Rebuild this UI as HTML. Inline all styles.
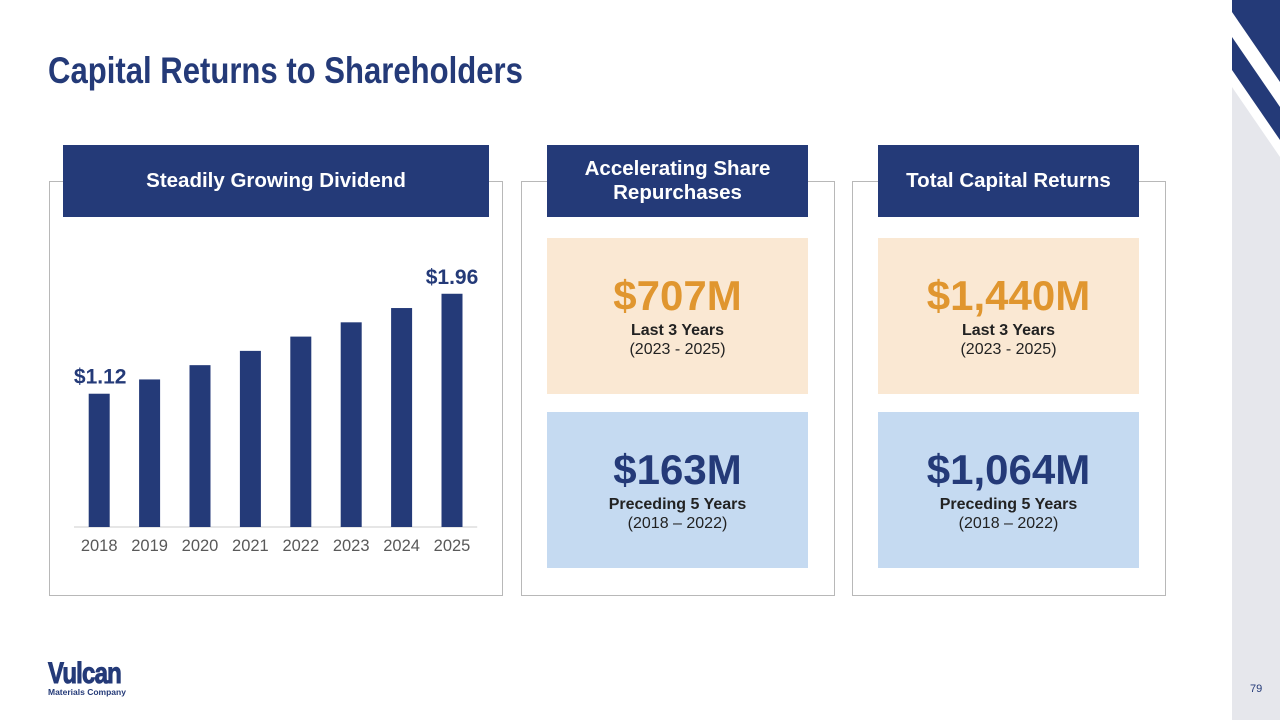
<!DOCTYPE html>
<html><head><meta charset="utf-8"><style>
body{margin:0;width:1280px;height:720px;background:#fff;font-family:"Liberation Sans",sans-serif;position:relative;overflow:hidden}
.abs{position:absolute}
.title{left:48px;top:50px;font-size:37px;font-weight:bold;color:#243a78;font-family:"Liberation Sans Narrow","Liberation Sans",sans-serif;transform:scaleX(0.84);transform-origin:left top;white-space:nowrap}
.panel{border:1px solid #b8b8b8;box-sizing:border-box}
.hdr{background:#243a78;color:#fff;font-weight:bold;font-size:20.5px;display:flex;align-items:center;justify-content:center;text-align:center;line-height:24px}
.box{display:flex;flex-direction:column;align-items:center;justify-content:center;text-align:center}
.big{font-size:42px;font-weight:bold;line-height:46px}
.sub{font-size:16px;font-weight:bold;color:#222;margin-top:2px;line-height:19px}
.sub2{font-size:16px;color:#222;line-height:19px}
</style></head><body>
<svg class="abs" style="left:1232px;top:0" width="48" height="720">
<rect x="0" y="0" width="48" height="720" fill="#e6e7ec"/>
<polygon points="0,0 48,0 48,157 0,87" fill="#fff"/>
<polygon points="0,0 48,0 48,82 0,12" fill="#243a78"/>
<polygon points="0,37 48,107 48,140 0,70" fill="#243a78"/>
</svg>
<div class="abs title">Capital Returns to Shareholders</div>

<div class="abs panel" style="left:49px;top:181px;width:454px;height:415px"></div>
<div class="abs hdr" style="left:63px;top:145px;width:426px;height:72px">Steadily Growing Dividend</div>
<svg class="abs" style="left:49px;top:217px" width="454" height="370" id="chart"></svg>

<div class="abs panel" style="left:521px;top:181px;width:314px;height:415px"></div>
<div class="abs hdr" style="left:547px;top:145px;width:261px;height:72px">Accelerating Share<br>Repurchases</div>
<div class="abs box" style="left:547px;top:238px;width:261px;height:156px;background:#fae8d3"><div class="big" style="color:#e0962f">$707M</div><div class="sub">Last 3 Years</div><div class="sub2">(2023 - 2025)</div></div>
<div class="abs box" style="left:547px;top:412px;width:261px;height:156px;background:#c5daf1"><div class="big" style="color:#243a78">$163M</div><div class="sub">Preceding 5 Years</div><div class="sub2">(2018 – 2022)</div></div>

<div class="abs panel" style="left:852px;top:181px;width:314px;height:415px"></div>
<div class="abs hdr" style="left:878px;top:145px;width:261px;height:72px">Total Capital Returns</div>
<div class="abs box" style="left:878px;top:238px;width:261px;height:156px;background:#fae8d3"><div class="big" style="color:#e0962f">$1,440M</div><div class="sub">Last 3 Years</div><div class="sub2">(2023 - 2025)</div></div>
<div class="abs box" style="left:878px;top:412px;width:261px;height:156px;background:#c5daf1"><div class="big" style="color:#243a78">$1,064M</div><div class="sub">Preceding 5 Years</div><div class="sub2">(2018 – 2022)</div></div>

<div class="abs" style="left:48px;top:660px;color:#243a78">
<div style="font-size:30px;font-weight:900;line-height:28px;transform:scaleX(0.8);transform-origin:left;letter-spacing:-1px;-webkit-text-stroke:1px #243a78">Vulcan</div>
<div style="font-size:8.5px;font-weight:bold;line-height:9px">Materials Company</div></div>
<div class="abs" style="left:1250px;top:683px;font-size:11px;color:#243a78">79</div>
<script>
const years=['2018','2019','2020','2021','2022','2023','2024','2025'];
const dividends=[1.12,1.24,1.36,1.48,1.60,1.72,1.84,1.96];
const labels={0:'$1.12',7:'$1.96'};
const svg=document.getElementById('chart');const NS='http://www.w3.org/2000/svg';
const x0=25,step=50.4,base=310,pxPer=119,bw=21;
const xs=i=>x0+step*(i+0.5);const ys=v=>base-v*pxPer;
function mk(t,a){const e=document.createElementNS(NS,t);for(const k in a)e.setAttribute(k,a[k]);svg.appendChild(e);return e;}
const ax=mk('line',{x1:x0,x2:x0+step*8,y1:base,y2:base,stroke:'#ccc'});


years.forEach((y,i)=>{
const r=mk('rect',{x:xs(i)-bw/2,y:ys(dividends[i]),width:bw,height:dividends[i]*pxPer,fill:'#243a78'});


const t=mk('text',{x:xs(i),y:base+24,'text-anchor':'middle','font-size':16.5,fill:'#595959'});t.textContent=y;


if(labels[i]){const l=mk('text',{x:xs(i)+(i==0?1:0),y:ys(dividends[i])-10,'text-anchor':'middle','font-size':21,'font-weight':'bold',fill:'#243a78'});l.textContent=labels[i];

}
});
</script>
</body></html>
